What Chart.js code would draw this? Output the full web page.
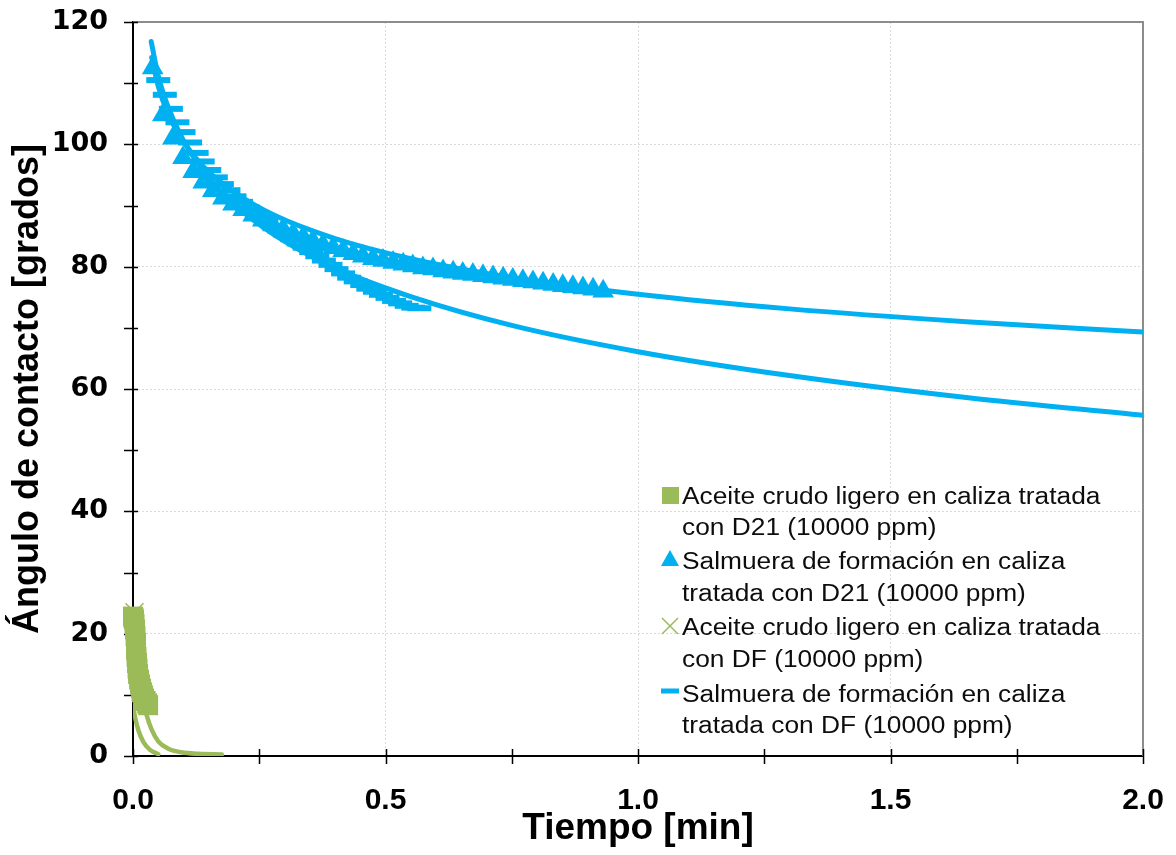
<!DOCTYPE html>
<html>
<head>
<meta charset="utf-8">
<script src="https://cdn.jsdelivr.net/npm/chart.js@4.4.1/dist/chart.umd.min.js"></script>
<style>
  html, body { margin: 0; padding: 0; background: #ffffff; }
  canvas { display: block; }
</style>
</head>
<body>
<canvas id="chart" width="1176" height="855"></canvas>
<script>
// ---- Series names (legend order) ----
const seriesNames = [
  ['Aceite crudo ligero en caliza tratada', 'con D21 (10000 ppm)'],
  ['Salmuera de formación en caliza', 'tratada con D21 (10000 ppm)'],
  ['Aceite crudo ligero en caliza tratada', 'con DF (10000 ppm)'],
  ['Salmuera de formación en caliza', 'tratada con DF (10000 ppm)']
];

// ---- Aceite crudo ligero, D21 (squares) ----
const oilD21Time  = [0.000, 0.001, 0.002, 0.003, 0.004, 0.005, 0.006, 0.006, 0.007, 0.008, 0.009, 0.010, 0.012, 0.014, 0.016, 0.018, 0.020, 0.022, 0.025, 0.028, 0.030];
const oilD21Angle = [22.8, 22.6, 22.3, 21.6, 20.7, 19.6, 18.5, 17.3, 16.2, 15.2, 14.3, 13.4, 12.5, 11.7, 11.0, 10.4, 9.9, 9.4, 9.0, 8.6, 8.3];

// ---- Aceite crudo ligero, DF (crosses) ----
const oilDFTime  = [0.003, 0.004, 0.005, 0.007, 0.009, 0.012, 0.015];
const oilDFAngle = [23.5, 21.5, 19.0, 16.5, 14.0, 12.0, 10.5];

// ---- Salmuera de formación, D21 (triangles) ----
const brineD21Time = [0.039, 0.059, 0.079, 0.099, 0.119, 0.139, 0.158, 0.178, 0.198, 0.218,
                      0.238, 0.257, 0.277, 0.297, 0.317, 0.337, 0.356, 0.376, 0.396, 0.416,
                      0.436, 0.455, 0.475, 0.495, 0.515, 0.535, 0.554, 0.574, 0.594, 0.614,
                      0.634, 0.653, 0.673, 0.693, 0.713, 0.733, 0.752, 0.772, 0.792, 0.812,
                      0.832, 0.851, 0.871, 0.891, 0.911, 0.931];
const brineD21Angle = [112.5, 104.8, 101.0, 97.8, 95.5, 93.8, 92.4, 91.2, 90.2, 89.3,
                       88.4, 87.6, 86.8, 86.1, 85.4, 84.8, 84.2, 83.6, 83.1, 82.6,
                       82.1, 81.7, 81.3, 81.0, 80.7, 80.4, 80.1, 79.8, 79.6, 79.3,
                       79.1, 78.9, 78.7, 78.5, 78.3, 78.1, 77.9, 77.7, 77.5, 77.3,
                       77.1, 76.9, 76.7, 76.5, 76.3, 76.0];

// ---- Salmuera de formación, DF (dashes) ----
const brineDFTime = [0.050, 0.063, 0.075, 0.088, 0.100, 0.113, 0.126, 0.138, 0.151, 0.164,
                     0.176, 0.189, 0.201, 0.214, 0.227, 0.239, 0.252, 0.264, 0.277, 0.290,
                     0.302, 0.315, 0.328, 0.340, 0.353, 0.365, 0.378, 0.391, 0.403, 0.416,
                     0.428, 0.441, 0.454, 0.466, 0.479, 0.491, 0.504, 0.517, 0.529, 0.542,
                     0.555, 0.567];
const brineDFAngle = [110.5, 108.1, 105.8, 103.6, 102.0, 100.3, 98.6, 97.2, 95.8, 94.6,
                      93.5, 92.5, 91.5, 90.6, 89.7, 88.9, 88.1, 87.3, 86.6, 85.9,
                      85.2, 84.5, 83.8, 83.1, 82.4, 81.7, 81.0, 80.3, 79.6, 78.9,
                      78.2, 77.6, 77.0, 76.4, 75.9, 75.4, 74.9, 74.4, 74.0, 73.6,
                      73.3, 73.2];

// ---- Trend curves ----
const trendBrineD21Time  = [0.037, 0.05, 0.07, 0.1, 0.14, 0.2, 0.28, 0.4, 0.55, 0.75, 1.0, 1.3, 1.65, 2.0];
const trendBrineD21Angle = [114.2, 109.5, 104.9, 100.4, 96.3, 92.2, 88.4, 84.6, 81.3, 78.2, 75.5, 73.1, 71.0, 69.3];
const trendBrineDFTime   = [0.036, 0.05, 0.07, 0.1, 0.14, 0.2, 0.28, 0.4, 0.55, 0.75, 1.0, 1.3, 1.65, 2.0];
const trendBrineDFAngle  = [116.8, 111.2, 106.0, 100.6, 95.6, 90.2, 85.2, 79.8, 75.1, 70.4, 66.1, 62.2, 58.6, 55.7];
const trendOilAFTime  = [0.0, 0.004, 0.0105, 0.0204, 0.0337, 0.05];
const trendOilAFAngle = [8.2, 6.4, 4.25, 2.3, 1.0, 0.3];
const trendOilBTime   = [0.012, 0.02, 0.027, 0.037, 0.05, 0.07, 0.096, 0.13, 0.176];
const trendOilBAngle  = [12.5, 9.0, 6.7, 4.3, 2.4, 1.2, 0.6, 0.35, 0.25];

// ---- Axis settings ----
const xTickStep = 0.25, xLabelStep = 0.5;
const yTickStep = 10, yLabelStep = 20;

const BLUE = '#00B0F0';
const GREEN = '#9BBB59';

function toPoints(xs, ys) { return xs.map((x, i) => ({ x: x, y: ys[i] })); }

function trend(xs, ys, color, width) {
  return {
    data: toPoints(xs, ys),
    showLine: true,
    borderColor: color,
    borderWidth: width,
    borderCapStyle: 'round',
    pointRadius: 0,
    cubicInterpolationMode: 'monotone',
    fill: false
  };
}

const datasets = [
  { // triangles
    data: toPoints(brineD21Time, brineD21Angle),
    pointStyle: 'triangle', pointRadius: 12.5,
    backgroundColor: BLUE, borderColor: BLUE, borderWidth: 0, showLine: false
  },
  { // dashes
    data: toPoints(brineDFTime, brineDFAngle),
    pointStyle: 'line', pointRadius: 12,
    borderColor: BLUE, backgroundColor: BLUE, borderWidth: 6, showLine: false
  },
  trend(trendBrineD21Time, trendBrineD21Angle, BLUE, 5),
  trend(trendBrineDFTime, trendBrineDFAngle, BLUE, 5),
  { // crosses
    data: toPoints(oilDFTime, oilDFAngle),
    pointStyle: 'crossRot', pointRadius: 12.7,
    borderColor: GREEN, backgroundColor: GREEN, borderWidth: 1.5, showLine: false,
    clip: false
  },
  { // squares
    data: toPoints(oilD21Time, oilD21Angle),
    pointStyle: 'rect', pointRadius: 14.1,
    backgroundColor: GREEN, borderColor: GREEN, borderWidth: 0, showLine: false,
    clip: false
  },
  trend(trendOilAFTime, trendOilAFAngle, GREEN, 4.5),
  trend(trendOilBTime, trendOilBAngle, GREEN, 4.5)
];

// Plot frame (top/right) and tick marks crossing the axes
const framePlugin = {
  id: 'frameTicks',
  beforeDatasetsDraw(chart) {
    const { ctx, chartArea: a, scales } = chart;
    ctx.save();
    ctx.strokeStyle = '#8c8c8c';
    ctx.lineWidth = 2;
    ctx.beginPath();
    ctx.moveTo(a.left, a.top);
    ctx.lineTo(a.right, a.top);
    ctx.lineTo(a.right, a.bottom);
    ctx.stroke();

    ctx.strokeStyle = '#000000';
    ctx.lineWidth = 1.5;
    ctx.beginPath();
    scales.x.ticks.forEach(t => {
      const px = Math.round(scales.x.getPixelForValue(t.value)) + 0.5;
      ctx.moveTo(px, a.bottom - 7);
      ctx.lineTo(px, a.bottom + 8);
    });
    scales.y.ticks.forEach(t => {
      const py = Math.round(scales.y.getPixelForValue(t.value)) + 0.5;
      ctx.moveTo(a.left - 9, py);
      ctx.lineTo(a.left + 5, py);
    });
    ctx.stroke();
    ctx.restore();
  }
};

// Legend inside the plot area
const legendPlugin = {
  id: 'insideLegend',
  afterDatasetsDraw(chart) {
    const ctx = chart.ctx;
    const markerX = 670, textX = 682;
    const baselines = [[504, 535], [569, 601], [635, 667], [702, 733]];
    ctx.save();
    baselines.forEach((lines, i) => {
      const my = lines[0] - 9;
      ctx.fillStyle = i % 2 === 0 ? GREEN : BLUE;
      ctx.strokeStyle = ctx.fillStyle;
      if (i === 0) {
        ctx.fillRect(markerX - 8, my - 8, 17, 17);
      } else if (i === 1) {
        ctx.beginPath();
        ctx.moveTo(markerX, my - 10);
        ctx.lineTo(markerX + 9, my + 6);
        ctx.lineTo(markerX - 9, my + 6);
        ctx.closePath();
        ctx.fill();
      } else if (i === 2) {
        ctx.lineWidth = 1.5;
        ctx.beginPath();
        ctx.moveTo(markerX - 8, my - 8); ctx.lineTo(markerX + 8, my + 8);
        ctx.moveTo(markerX + 8, my - 8); ctx.lineTo(markerX - 8, my + 8);
        ctx.stroke();
      } else {
        ctx.lineWidth = 5;
        ctx.beginPath();
        ctx.moveTo(markerX - 9, my - 2); ctx.lineTo(markerX + 9, my - 2);
        ctx.stroke();
      }
      ctx.fillStyle = '#0d0d0d';
      ctx.font = '23.5px "Liberation Sans", Arial, sans-serif';
      ctx.textBaseline = 'alphabetic';
      ctx.textAlign = 'left';
      seriesNames[i].forEach((txt, k) => {
        ctx.save();
        ctx.translate(textX, lines[k]);
        ctx.scale(1.12, 1);
        ctx.fillText(txt, 0, 0);
        ctx.restore();
      });
    });
    ctx.restore();
  }
};

new Chart(document.getElementById('chart'), {
  type: 'scatter',
  data: { datasets: datasets },
  options: {
    responsive: false,
    animation: false,
    events: [],
    layout: { padding: { left: 0, right: 33, top: 22, bottom: 0 } },
    plugins: { legend: { display: false }, tooltip: { enabled: false } },
    scales: {
      x: {
        type: 'linear',
        min: 0, max: 2,
        afterFit(s) {
          s.height = 99;
          s.paddingLeft = 0; s.paddingRight = 0; s.paddingTop = 0; s.paddingBottom = 0;
        },
        ticks: {
          stepSize: xTickStep,
          autoSkip: false,
          maxRotation: 0,
          padding: 27,
          color: '#000000',
          font: { family: '"Liberation Sans", Arial, sans-serif', size: 30, weight: 'bold' },
          callback: v => (Math.abs(v / xLabelStep - Math.round(v / xLabelStep)) < 1e-6 ? v.toFixed(1) : '')
        },
        grid: {
          drawTicks: false,
          lineWidth: 1,
          color: c => {
            const v = c.tick ? c.tick.value : 0;
            const major = Math.abs(v / xLabelStep - Math.round(v / xLabelStep)) < 1e-6;
            return (major && v > 0 && v < 2) ? '#dadada' : 'rgba(0,0,0,0)';
          }
        },
        border: { display: true, color: '#000000', width: 2, dash: [2, 2] },
        title: {
          display: true,
          text: 'Tiempo [min]',
          color: '#000000',
          font: { family: '"Liberation Sans", Arial, sans-serif', size: 37, weight: 'bold', lineHeight: 1 },
          padding: { top: 0, bottom: 8 }
        }
      },
      y: {
        type: 'linear',
        min: 0, max: 120,
        afterFit(s) {
          s.width = 133;
          s.paddingLeft = 0; s.paddingRight = 0; s.paddingTop = 0; s.paddingBottom = 0;
        },
        ticks: {
          stepSize: yTickStep,
          autoSkip: false,
          padding: 25,
          color: '#000000',
          font: { family: '"DejaVu Sans", sans-serif', size: 27, weight: 'bold' },
          callback: v => (v % yLabelStep === 0 ? String(v) : '')
        },
        grid: {
          drawTicks: false,
          lineWidth: 1,
          color: c => {
            const v = c.tick ? c.tick.value : 0;
            return (v % yLabelStep === 0 && v > 0 && v < 120) ? '#dadada' : 'rgba(0,0,0,0)';
          }
        },
        border: { display: true, color: '#000000', width: 2, dash: [2, 2] },
        title: {
          display: true,
          text: 'Ángulo de contacto [grados]',
          color: '#000000',
          font: { family: '"Liberation Sans", Arial, sans-serif', size: 36, weight: 'bold', lineHeight: 1 },
          padding: { top: 10, bottom: 0 }
        }
      }
    }
  },
  plugins: [framePlugin, legendPlugin]
});
</script>
</body>
</html>
